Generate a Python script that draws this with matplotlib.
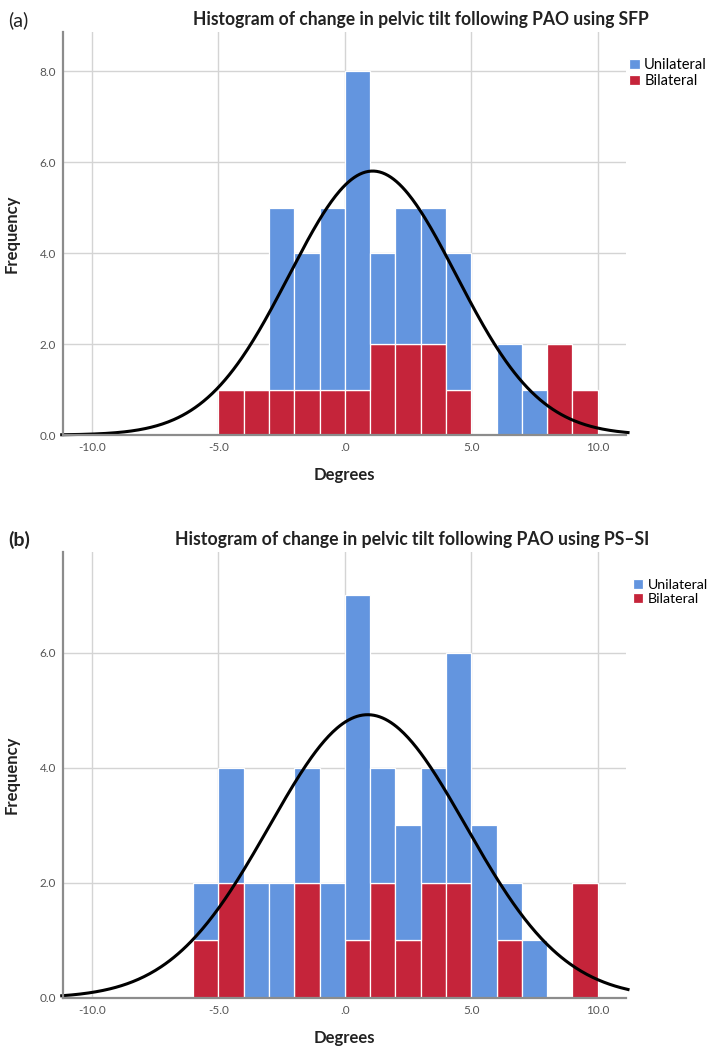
import numpy as np
import matplotlib
matplotlib.use("Agg")
import matplotlib.pyplot as plt
from matplotlib import font_manager

# ---------------- data ----------------
bin_width = 1.0
# Panel (a): SFP
a_bin_left = [-5, -4, -3, -2, -1, 0, 1, 2, 3, 4, 5, 6, 7, 8, 9]
a_unilateral = [0, 0, 4, 3, 4, 7, 2, 3, 3, 3, 0, 2, 1, 0, 0]
a_bilateral = [1, 1, 1, 1, 1, 1, 2, 2, 2, 1, 0, 0, 0, 2, 1]
a_mean, a_sd = 1.1, 3.30

# Panel (b): PS-SI
b_bin_left = [-6, -5, -4, -3, -2, -1, 0, 1, 2, 3, 4, 5, 6, 7, 8, 9]
b_unilateral = [1, 2, 2, 2, 2, 2, 6, 2, 2, 2, 4, 3, 1, 1, 0, 0]
b_bilateral = [1, 2, 0, 0, 2, 0, 1, 2, 1, 2, 2, 0, 1, 0, 0, 2]
b_mean, b_sd = 0.9, 3.89

x_ticks = [-10, -5, 0, 5, 10]
x_ticklabels = ["-10.0", "-5.0", ".0", "5.0", "10.0"]
a_yticks = [0, 2, 4, 6, 8]
b_yticks = [0, 2, 4, 6]

titles = ["Histogram of change in pelvic tilt following PAO using SFP",
          "Histogram of change in pelvic tilt following PAO using PS\u2013SI"]
series_names = ["Unilateral", "Bilateral"]

# ---------------- style ----------------
avail = {f.name for f in font_manager.fontManager.ttflist}
fam = [f for f in ["Lato", "Open Sans"] if f in avail] + ["DejaVu Sans"]
plt.rcParams['font.family'] = fam

BLUE = "#6395DF"
RED = "#C5243A"
GRID = "#D4D4D4"
SPINE = "#8C8C8C"
TICKC = "#555555"

W, H = 712, 1050
fig = plt.figure(figsize=(W / 100, H / 100), dpi=100)
renderer = fig.canvas.get_renderer()


def px_axes(left, top, right, bottom):
    return fig.add_axes([left / W, 1 - bottom / H, (right - left) / W, (bottom - top) / H])


def fit_text(t, target_px):
    w = t.get_window_extent(renderer=renderer).width
    t.set_fontsize(t.get_fontsize() * target_px / w)


def draw(ax, bin_left, uni, bil, mean, sd, yticks, ymax, title, title_y, title_w,
         label, label_bold, leg_y, leg_x, leg_fs):
    left = np.array(bin_left, dtype=float)
    uni = np.array(uni, dtype=float)
    bil = np.array(bil, dtype=float)
    h_b = ax.bar(left, bil, width=bin_width, align='edge', color=RED,
                 edgecolor='white', linewidth=0.9, zorder=3, label=series_names[1])
    h_u = ax.bar(left, uni, bottom=bil, width=bin_width, align='edge', color=BLUE,
                 edgecolor='white', linewidth=0.9, zorder=3, label=series_names[0])
    n = (uni + bil).sum()
    xs = np.linspace(-11.2, 11.2, 400)
    ys = n * bin_width / (sd * np.sqrt(2 * np.pi)) * np.exp(-0.5 * ((xs - mean) / sd) ** 2)
    ax.plot(xs, ys, color='black', lw=2.2, zorder=4, clip_on=False)

    ax.set_xlim(-11.15, 11.12)
    ax.set_ylim(0, ymax)
    ax.set_xticks(x_ticks)
    ax.set_xticklabels(x_ticklabels)
    ax.set_yticks(yticks)
    ax.set_yticklabels([f"{v:.1f}" for v in yticks])
    ax.tick_params(length=0, labelsize=8.5, colors=TICKC, pad=5)
    ax.grid(True, color=GRID, lw=1.0, zorder=0)
    for s in ['top', 'right']:
        ax.spines[s].set_visible(False)
    for s in ['left', 'bottom']:
        ax.spines[s].set_color(SPINE)
        ax.spines[s].set_linewidth(1.6)
        ax.spines[s].set_zorder(5)
    ax.set_xlabel("Degrees", fontsize=12, fontweight='bold', labelpad=10, color='#222222')
    ax.set_ylabel("Frequency", fontsize=12, fontweight='bold', labelpad=14, color='#222222')

    t = fig.text(649 / W, 1 - title_y / H, title, ha='right', va='center',
                 fontsize=11, fontweight='bold', color='#222222')
    fit_text(t, title_w)
    fig.text(8 / W, 1 - title_y / H, label, ha='left', va='center', fontsize=14,
             fontweight=label_bold, color='#222222')
    ax.legend(handles=[h_u, h_b], loc='upper left', bbox_to_anchor=(leg_x, leg_y),
              frameon=False, handlelength=0.75, handleheight=0.75, handletextpad=0.3,
              labelspacing=0.12, borderaxespad=0, borderpad=0, fontsize=leg_fs)


ax1 = px_axes(63, 32, 626, 435)
draw(ax1, a_bin_left, a_unilateral, a_bilateral, a_mean, a_sd, a_yticks, 8.86,
     titles[0], 20, 456, "(a)", 'normal', 0.935, 1.005, 10.5)

ax2 = px_axes(63, 552, 626, 998)
draw(ax2, b_bin_left, b_unilateral, b_bilateral, b_mean, b_sd, b_yticks, 7.75,
     titles[1], 540, 472, "(b)", 'bold', 0.94, 1.012, 10.2)

fig.savefig("out.png", dpi=100)
